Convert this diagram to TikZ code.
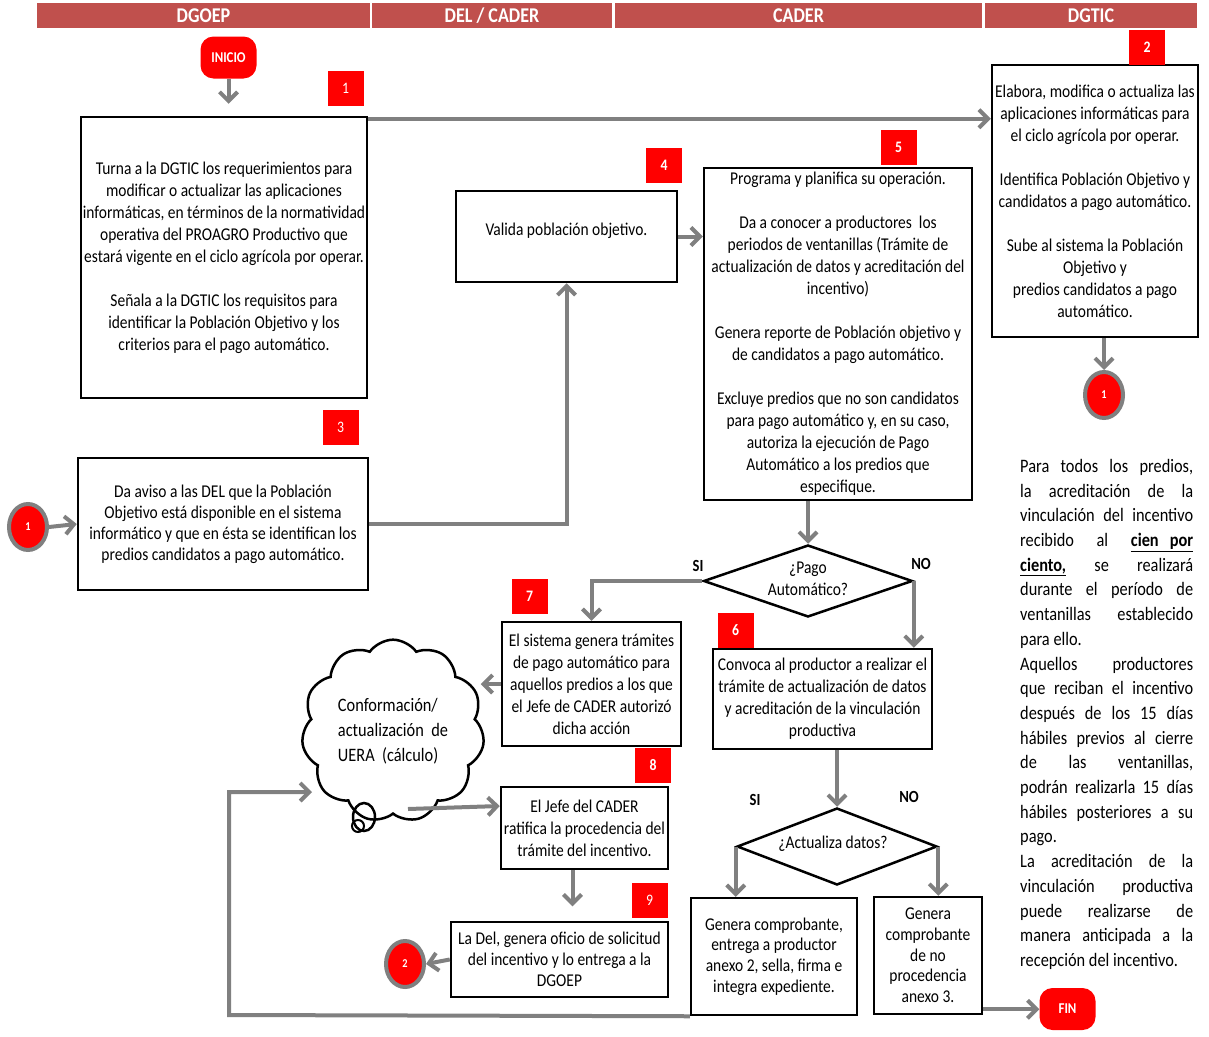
\documentclass[tikz,border=0pt]{standalone}
\usepackage{fontspec}
\setmainfont[FakeStretch=0.86]{Carlito}
\usetikzlibrary{positioning,arrows.meta,shapes.geometric,shapes.symbols}
\definecolor{hdrred}{HTML}{C0504D}
\definecolor{flowgray}{HTML}{808080}
\newcommand{\jline}[1]{\makebox[173pt][s]{#1}}

\begin{document}
\begin{tikzpicture}[x=1pt,y=-1pt,
  box/.style={draw, line width=2.5pt, align=center, inner sep=1pt,
    font=\fontsize{18}{22}\selectfont},
  badge/.style={fill=red, text=white, minimum width=36pt, minimum height=35pt,
    inner sep=0pt, font=\fontsize{16}{16}\selectfont\bfseries},
  hdr/.style={fill=hdrred, text=white, minimum height=25pt, inner sep=0pt,
    font=\fontsize{21}{21}\selectfont\bfseries},
  term/.style={fill=red, text=white, rounded corners=13pt, minimum width=56pt,
    minimum height=42pt, inner sep=0pt, font=\fontsize{15}{15}\selectfont\bfseries},
  link/.style={ellipse, fill=red, draw=flowgray, line width=4pt, minimum width=38pt,
    minimum height=46pt, inner sep=0pt, text=white, font=\fontsize{12}{12}\selectfont\bfseries},
  decision/.style={diamond, draw, line width=2.5pt, inner sep=0pt},
  question/.style={align=center, inner sep=0pt, font=\fontsize{18}{22}\selectfont},
  answer/.style={font=\fontsize{17}{17}\selectfont\bfseries},
  flow/.style={draw=flowgray, line width=4pt, -{Straight Barb[length=9pt,width=18pt]}}
]
\useasboundingbox (0,0) rectangle (1209,1036);

% header
\node[hdr, minimum width=333pt] (hdgoep) at (203.5,15.5) {DGOEP};
\node[hdr, minimum width=240pt] (hdel) at (492,15.5) {DEL / CADER};
\node[hdr, minimum width=367pt] (hcader) at (798.5,15.5) {CADER};
\node[hdr, minimum width=212pt] (hdgtic) at (1091,15.5) {DGTIC};

% DGOEP
\node[term] (inicio) at (228.5,57.5) {INICIO};
\node[box, minimum width=286pt, minimum height=281pt] (box1) at (224,257.5)
  {Turna a la DGTIC los requerimientos para\\
   modificar o actualizar las aplicaciones\\
   informáticas, en términos de la normatividad\\
   operativa del PROAGRO Productivo que\\
   estará vigente en el ciclo agrícola por operar.\\[22pt]
   Señala a la DGTIC los requisitos para\\
   identificar la Población Objetivo y los\\
   criterios para el pago automático.};
\node[box, minimum width=290pt, minimum height=132pt,
  font=\fontsize{18}{21}\selectfont] (box3) at (223,524)
  {Da aviso a las DEL que la Población\\
   Objetivo está disponible en el sistema\\
   informático y que en ésta se identifican los\\
   predios candidatos a pago automático.};
\node[link] (c1a) at (28,527) {1};

% DEL / CADER
\node[box, minimum width=221pt, minimum height=91pt] (box4) at (566.5,236.5)
  {\raisebox{14pt}{Valida población objetivo.}};
\node[box, minimum width=179pt, minimum height=124pt] (box7) at (591.5,684)
  {El sistema genera trámites\\
   de pago automático para\\
   aquellos predios a los que\\
   el Jefe de CADER autorizó\\
   dicha acción};
\node[cloud, cloud puffs=11, cloud puff arc=110, draw, line width=2.5pt,
  minimum width=180pt, minimum height=146pt, align=left,
  font=\fontsize{19}{25}\selectfont] (uera) at (393,731)
  {Conformación/\\ actualización~ de\\ UERA~ (cálculo)};
\draw[line width=2.5pt] (364,817) ellipse (11pt and 14pt);
\draw[line width=2pt] (358,826) circle (6pt);
\node[box, minimum width=167pt, minimum height=82pt] (box8) at (584.5,828)
  {El Jefe del CADER\\
   ratifica la procedencia del\\
   trámite del incentivo.};
\node[box, minimum width=217pt, minimum height=75pt,
  font=\fontsize{18}{21}\selectfont] (box9) at (559.5,959.5)
  {La Del, genera oficio de solicitud\\
   del incentivo y lo entrega a la\\
   DGOEP};
\node[link] (c2) at (405,964) {2};

% CADER
\node[box, minimum width=268pt, minimum height=332pt] (box5) at (838,334)
  {Programa y planifica su operación.\\[22pt]
   Da a conocer a productores~ los\\
   periodos de ventanillas (Trámite de\\
   actualización de datos y acreditación del\\
   incentivo)\\[22pt]
   Genera reporte de Población objetivo y\\
   de candidatos a pago automático.\\[22pt]
   Excluye predios que no son candidatos\\
   para pago automático y, en su caso,\\
   autoriza la ejecución de Pago\\
   Automático a los predios que\\
   especifique.};
\node[decision, minimum width=209pt, minimum height=72pt] (d1) at (808,581) {};
\node[question] (d1t) at (808,579) {¿Pago\\ Automático?};
\node[box, minimum width=219pt, minimum height=100pt] (box6) at (822.5,699)
  {Convoca al productor a realizar el\\
   trámite de actualización de datos\\
   y acreditación de la vinculación\\
   productiva};
\node[decision, minimum width=200pt, minimum height=77pt] (d2) at (837,846.5) {};
\node[question] (d2t) at (833,844) {¿Actualiza datos?};
\node[box, minimum width=166pt, minimum height=117pt,
  font=\fontsize{18}{20.7}\selectfont] (box10) at (774,956.5)
  {Genera comprobante,\\
   entrega a productor\\
   anexo 2, sella, firma e\\
   integra expediente.};
\node[box, minimum width=108pt, minimum height=117pt,
  font=\fontsize{18}{20.7}\selectfont] (box11) at (928,955.5)
  {Genera\\ comprobante\\ de no\\ procedencia\\ anexo 3.};
\node[term] (fin) at (1067.5,1009) {FIN};
\node[answer] (si1) at (698,566) {SI};
\node[answer] (no1) at (921,564) {NO};
\node[answer] (si2) at (755,800) {SI};
\node[answer] (no2) at (909,797) {NO};

% DGTIC
\node[box, minimum width=206pt, minimum height=272pt] (box2) at (1095,201)
  {Elabora, modifica o actualiza las\\
   aplicaciones informáticas para\\
   el ciclo agrícola por operar.\\[22pt]
   Identifica Población Objetivo y\\
   candidatos a pago automático.\\[22pt]
   Sube al sistema la Población\\
   Objetivo y\\
   predios candidatos a pago\\
   automático.};
\node[link] (c1b) at (1104,395) {1};

% numbers
\node[badge] (n1) at (345.5,88) {\raisebox{-6pt}{\mdseries 1}};
\node[badge] (n2) at (1147,47) {\raisebox{-2pt}{2}};
\node[badge] (n3) at (340.5,427.5) {\raisebox{-4pt}{\mdseries 3}};
\node[badge] (n4) at (664,165.5) {\raisebox{-2pt}{4}};
\node[badge] (n5) at (898.5,147.5) {\raisebox{-2pt}{5}};
\node[badge] (n6) at (735.5,630) {6};
\node[badge] (n7) at (529.5,596.5) {7};
\node[badge] (n8) at (653,765.5) {8};
\node[badge] (n9) at (649.5,900) {\raisebox{-2pt}{\mdseries 9}};

% note
\node[anchor=north west, align=left, inner sep=0pt,
  font=\fontsize{19}{24.7}\selectfont] (note) at (1020,459)
  {\jline{Para todos los predios,}\\
   \jline{la acreditación de la}\\
   \jline{vinculación del incentivo}\\
   \jline{recibido al \underline{\textbf{cien~~ por}}}\\
   \jline{\underline{\textbf{ciento,}} se realizará}\\
   \jline{durante el período de}\\
   \jline{ventanillas establecido}\\
   para ello.\\
   \jline{Aquellos productores}\\
   \jline{que reciban el incentivo}\\
   \jline{después de los 15 días}\\
   \jline{hábiles previos al cierre}\\
   \jline{de las ventanillas,}\\
   \jline{podrán realizarla 15 días}\\
   \jline{hábiles posteriores a su}\\
   pago.\\
   \jline{La acreditación de la}\\
   \jline{vinculación productiva}\\
   \jline{puede realizarse de}\\
   \jline{manera anticipada a la}\\
   recepción del incentivo.};

% connectors
\coordinate (cloudin) at (312,792);
\coordinate (cloudout) at (408,809);
\coordinate (loop) at (229,1015);
\draw[flow, shorten >=12pt] (inicio.south) -- (inicio.south |- box1.north);
\draw[flow] ([yshift=-3pt]box1.north east) -- ([yshift=-3pt]box1.north east -| box2.west);
\draw[flow] (box2.south -| c1b) -- (c1b.north);
\draw[flow] (c1a.east) -- (box3.west);
\draw[flow] (box3.east) -| (box4.south);
\draw[flow] (box4.east) -- (box4.east -| box5.west);
\draw[flow] (box5.south -| d1.north) -- (d1.north);
\draw[flow] (d1.west) -| (box7.north);
\draw[flow] (d1.east) -- (d1.east |- box6.north);
\draw[flow] (box6.south -| d2.north) -- (d2.north);
\draw[flow] (d2.west) -- (d2.west |- box10.north);
\draw[flow] (d2.east) -- (d2.east |- box11.north);
\draw[flow] ([yshift=6pt]box11.south east) -- ([yshift=6pt]box11.south east -| fin.west);
\draw[flow] (box7.west) -- ++(-20,0);
\draw[flow] (box10.south west) -- (loop) |- (cloudin);
\draw[flow] (cloudout) -- (box8.west |- 0,806);
\draw[flow] ([xshift=-12pt]box8.south) -- ++(0,36);
\draw[flow] (box9.west) -- (c2.east);
\end{tikzpicture}
\end{document}
